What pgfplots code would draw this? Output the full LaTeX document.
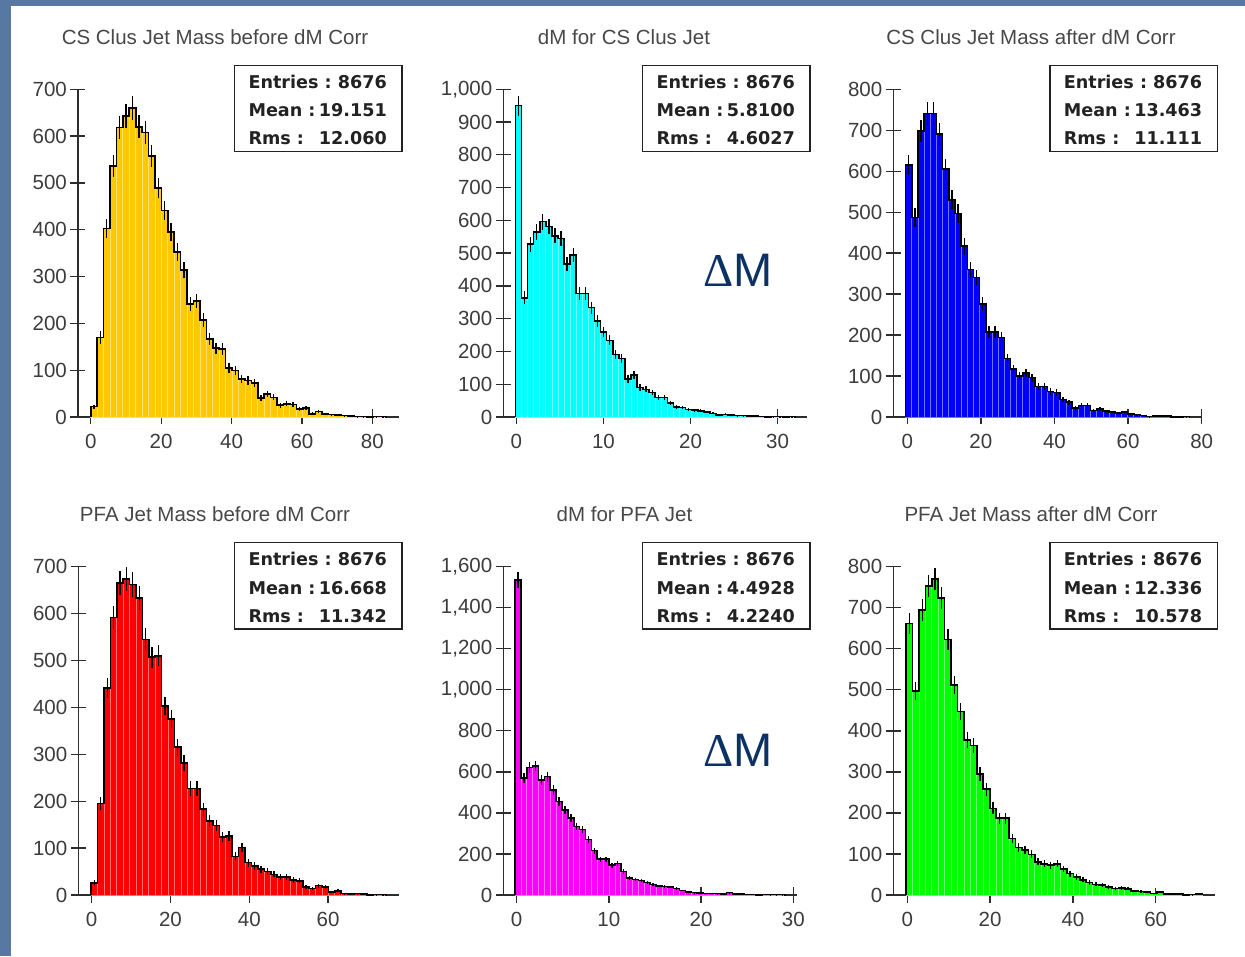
\documentclass[border=0pt]{standalone}
\usepackage{pgfplots}
\usepackage{pgfplotstable}
\pgfplotsset{compat=1.18}
\usepackage{fontspec}
\setmainfont{Liberation Sans}
\newfontfamily\serifdelta{Liberation Serif}
\newfontfamily\statfont{DejaVu Sans}

\definecolor{bgblue}{RGB}{86,120,162}
\definecolor{axiscol}{RGB}{45,45,45}
\definecolor{tickcol}{RGB}{60,60,60}
\definecolor{titlecol}{RGB}{72,72,72}
\definecolor{statcol}{RGB}{34,34,34}
\definecolor{dmcol}{RGB}{12,50,100}
\definecolor{cA}{RGB}{255,200,0}
\definecolor{cB}{RGB}{0,255,255}
\definecolor{cC}{RGB}{0,0,255}
\definecolor{cD}{RGB}{255,0,0}
\definecolor{cE}{RGB}{255,0,255}
\definecolor{cF}{RGB}{0,255,0}

% panel 1: bin width 1.825
\pgfplotstableread{
x n
0 0
0 22
1.825 170
3.65 403
5.475 536
7.3 618
9.125 643
10.95 660
12.775 620
14.6 608
16.425 558
18.25 489
20.075 441
21.9 395
23.725 353
25.55 314
27.375 241
29.2 248
31.025 207
32.85 166
34.675 147
36.5 145
38.325 105
40.15 99
41.975 81
43.8 78
45.625 72
47.45 41
49.275 49
51.1 42
52.925 25
54.75 28
56.575 27
58.4 17
60.225 19
62.05 7
63.875 12
65.7 6
67.525 5
69.35 4
71.175 3
73.0 2
74.825 1
76.65 1
78.475 0
80.3 1
82.125 1
83.95 0
}\dA

% panel 2: bin width 0.698
\pgfplotstableread{
x n
-0.104 0
-0.104 950
0.594 364
1.292 527
1.990 564
2.688 596
3.386 581
4.084 553
4.782 545
5.480 467
6.178 494
6.876 377
7.574 377
8.272 334
8.970 293
9.668 260
10.366 234
11.064 191
11.762 179
12.460 116
13.158 128
13.856 90
14.554 84
15.252 75
15.950 59
16.648 60
17.346 42
18.044 31
18.742 29
19.440 23
20.138 21
20.836 19
21.534 15
22.232 11
22.930 6
23.628 8
24.326 7
25.024 4
25.722 4
26.420 3
27.118 3
27.816 2
28.514 0
29.212 1
29.910 1
30.608 0
31.306 1
32.004 0
}\dB

% panel 3: bin width 1.676
\pgfplotstableread{
x n
-0.448 0
-0.448 615
1.228 487
2.904 698
4.580 741
6.256 741
7.932 691
9.608 605
11.284 530
12.960 497
14.636 417
16.312 360
17.988 341
19.664 276
21.340 208
23.016 208
24.692 194
26.368 143
28.044 117
29.720 100
31.396 107
33.072 96
34.748 74
36.424 74
38.100 62
39.776 60
41.452 43
43.128 36
44.804 22
46.480 28
48.156 28
49.832 16
51.508 19
53.184 14
54.860 12
56.536 10
58.212 12
59.888 7
61.564 6
63.240 4
64.916 1
66.592 3
68.268 3
69.944 2
71.620 0
73.296 0
74.972 1
76.648 0
}\dC

% panel 4: bin width 1.628
\pgfplotstableread{
x n
-0.144 0
-0.144 26
1.484 195
3.112 442
4.740 592
6.368 665
7.996 674
9.624 662
11.252 633
12.880 545
14.508 507
16.136 510
17.764 403
19.392 375
21.020 315
22.648 281
24.276 227
25.904 227
27.532 183
29.160 158
30.788 148
32.416 124
34.044 126
35.672 82
37.300 101
38.928 69
40.556 62
42.184 55
43.812 50
45.440 44
47.068 38
48.696 38
50.324 32
51.952 30
53.580 17
55.208 14
56.836 20
58.464 17
60.092 6
61.720 9
63.348 3
64.976 2
66.604 3
68.232 2
69.860 0
71.488 1
73.116 1
74.744 0
}\dD

% panel 5: bin width 0.637
\pgfplotstableread{
x n
-0.176 0
-0.176 1535
0.461 569
1.098 621
1.735 629
2.372 560
3.009 577
3.646 512
4.283 455
4.920 414
5.557 374
6.194 333
6.831 320
7.468 271
8.105 216
8.742 174
9.379 174
10.016 146
10.653 154
11.290 114
11.927 84
12.564 76
13.201 70
13.838 60
14.475 52
15.112 44
15.749 41
16.386 38
17.023 32
17.660 22
18.297 15
18.934 12
19.571 10
20.208 8
20.845 8
21.482 7
22.119 6
22.756 12
23.393 4
24.030 4
24.667 3
25.304 3
25.941 0
26.578 3
27.215 2
27.852 2
28.489 2
29.126 0
}\dE

% panel 6: bin width 1.554
\pgfplotstableread{
x n
-0.292 0
-0.292 662
1.262 497
2.816 695
4.370 753
5.924 770
7.478 723
9.032 623
10.586 512
12.140 447
13.694 378
15.248 364
16.802 295
18.356 258
19.910 211
21.464 187
23.018 187
24.572 138
26.126 116
27.680 110
29.234 99
30.788 81
32.342 76
33.896 73
35.450 76
37.004 63
38.558 52
40.112 44
41.666 37
43.220 30
44.774 26
46.328 25
47.882 20
49.436 16
50.990 17
52.544 15
54.098 10
55.652 9
57.206 7
58.760 4
60.314 7
61.868 2
63.422 2
64.976 2
66.530 0
68.084 1
69.638 2
71.192 0
}\dF

\pgfplotsset{
  panel/.style={
    scale only axis, anchor=south west, clip=false,
    axis lines=left, axis line style={-, draw=axiscol, line width=1.3pt},
    tick align=center, major tick length=15pt,
    tick style={draw=axiscol, line width=1.3pt},
    tick label style={font=\fontsize{20.5}{24}\selectfont, text=tickcol},
    xticklabel style={yshift=-6pt},
    /pgf/number format/assume math mode=true,
    /pgf/number format/1000 sep={,},
    scaled ticks=false, ymin=0, minor tick num=0,
  },
}

\newcommand{\hist}[3]{% table, colour, half bin width
  \addplot[ybar interval, fill=#2, draw=#2!55!white, line width=0.8pt] table[x=x,y=n]{#1};
  \addplot[const plot, draw=black, line width=1.6pt, mark=none] table[x=x,y=n]{#1};
  \addplot[draw=none, mark=none, error bars/.cd, y dir=both, y explicit, error mark=none,
    error bar style={draw=black, line width=1.3pt}]
    table[x expr=\thisrow{x}+#3, y=n, y error expr=sqrt(\thisrow{n})]{#1};
}

\newcommand{\statline}[3]{% x, y, text
  \node[anchor=base west, inner sep=0pt, text=statcol, font=\statfont\fontsize{17.6}{22}\selectfont\bfseries]
    at (#1,#2) {#3};
}
\newcommand{\statbox}[5]{% x left, y top, entries, mean, rms
  \draw[draw=statcol, line width=1.4pt] (#1,#2) rectangle ++(167.3,-86.4);
  \statline{#1+13.6}{#2-23}{\makebox[138.4pt]{Entries :\hfill #3}}
  \statline{#1+13.6}{#2-51.4}{\makebox[138.4pt]{Mean :\hfill #4}}
  \statline{#1+13.6}{#2-79.7}{\makebox[138.4pt]{Rms :\hfill #5}}
}

\begin{document}
\begin{tikzpicture}[x=1pt,y=1pt]
\path[use as bounding box] (0,0) rectangle (1245,956);
\fill[bgblue] (0,0) rectangle (1245,956);
\fill[white] (11,0) rectangle (1245,950);

% ---- top row ----
\begin{axis}[panel, at={(77.9pt,539pt)}, width=321.2pt, height=327.7pt,
  xmin=-3.65, xmax=87.6, ymax=700, xtick={0,20,40,60,80}, ytick={0,100,...,700}]
\hist{\dA}{cA}{0.9125}
\end{axis}
\begin{axis}[panel, at={(503.3pt,539pt)}, width=303.9pt, height=327.7pt,
  xmin=-1.5, xmax=33.4, ymax=1000, xtick={0,10,20,30}, ytick={0,100,...,1000}]
\hist{\dB}{cB}{0.349}
\end{axis}
\begin{axis}[panel, at={(893.3pt,539pt)}, width=308.4pt, height=327.7pt,
  xmin=-3.8, xmax=80, ymax=800, xtick={0,20,40,60,80}, ytick={0,100,...,800}]
\hist{\dC}{cC}{0.838}
\end{axis}

% ---- bottom row ----
\begin{axis}[panel, at={(78.3pt,61pt)}, width=320.7pt, height=328.3pt,
  xmin=-3.4, xmax=78, ymax=700, xtick={0,20,40,60}, ytick={0,100,...,700}]
\hist{\dD}{cD}{0.814}
\end{axis}
\begin{axis}[panel, at={(503.3pt,61pt)}, width=293.7pt, height=328.3pt,
  xmin=-1.45, xmax=30.4, ymax=1600, xtick={0,10,20,30}, ytick={0,200,...,1600}]
\hist{\dE}{cE}{0.3185}
\end{axis}
\begin{axis}[panel, at={(893.2pt,61pt)}, width=321.7pt, height=328.3pt,
  xmin=-3.4, xmax=74.3, ymax=800, xtick={0,20,40,60}, ytick={0,100,...,800}]
\hist{\dF}{cF}{0.777}
\end{axis}

% titles
\begin{scope}[every node/.style={anchor=base, inner sep=0pt, text=titlecol, font=\fontsize{20.5}{24}\selectfont}]
\node at (215,911.7) {CS Clus Jet Mass before dM Corr};
\node at (624,911.7) {dM for CS Clus Jet};
\node at (1031,911.7) {CS Clus Jet Mass after dM Corr};
\node at (215,434.3) {PFA Jet Mass before dM Corr};
\node at (624.5,434.3) {dM for PFA Jet};
\node at (1031,434.3) {PFA Jet Mass after dM Corr};
\end{scope}

% stats boxes
\statbox{234.7}{890.7}{8676}{19.151}{12.060}
\statbox{642.7}{890.7}{8676}{5.8100}{4.6027}
\statbox{1050}{890.7}{8676}{13.463}{11.111}
\statbox{234.7}{413.3}{8676}{16.668}{11.342}
\statbox{642.7}{413.3}{8676}{4.4928}{4.2240}
\statbox{1050}{413.3}{8676}{12.336}{10.578}

% Delta M labels
\node[anchor=base west, inner sep=0pt, text=dmcol, font=\fontsize{47}{56}\selectfont] at (703.3,669.3) {{\serifdelta Δ}M};
\node[anchor=base west, inner sep=0pt, text=dmcol, font=\fontsize{47}{56}\selectfont] at (703.3,189.3) {{\serifdelta Δ}M};
\end{tikzpicture}
\end{document}
